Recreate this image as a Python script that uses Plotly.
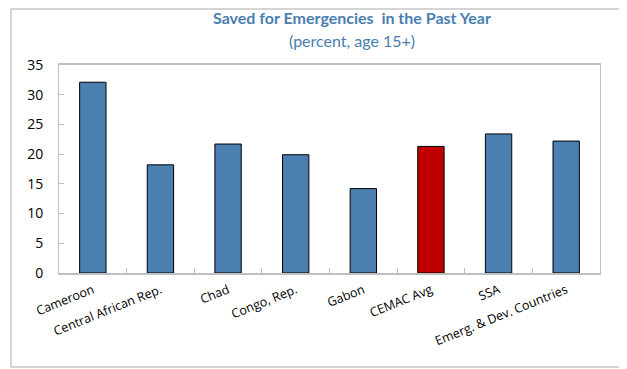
import plotly.graph_objects as go

categories = ["Cameroon", "Central African Rep.", "Chad", "Congo, Rep.", "Gabon",
              "CEMAC Avg", "SSA", "Emerg. & Dev. Countries"]
saved_pct = [32.1, 18.2, 21.7, 19.9, 14.2, 21.3, 23.4, 22.2]
highlight = "CEMAC Avg"

BLUE = "#4a7fb0"
RED = "#c00000"
GRAY = "#bfbfbf"
TITLE_BLUE = "#4a7eb0"

bar_colors = [RED if c == highlight else BLUE for c in categories]

fig = go.Figure()
fig.add_trace(go.Bar(
    x=categories,
    y=saved_pct,
    marker=dict(color=bar_colors, line=dict(color="black", width=1)),
    width=0.39,
))

# title and subtitle
fig.add_annotation(text="<b>Saved for Emergencies  in the Past Year</b>",
                   xref="paper", yref="paper", x=0.5416, y=1.226, yanchor="middle",
                   showarrow=False, font=dict(family="Lato", size=16, color=TITLE_BLUE))
fig.add_annotation(text="(percent, age 15+)",
                   xref="paper", yref="paper", x=0.5416, y=1.12, yanchor="middle",
                   showarrow=False, font=dict(family="Lato", size=16, color=TITLE_BLUE))

# outer frame around the whole chart
fig.add_shape(type="rect", xref="paper", yref="paper",
              x0=-0.0887, x1=1.0407, y0=-0.452, y1=1.269,
              line=dict(color="#d4d4d4", width=2))

# page body has an 8px margin, so the figure is drawn 8px smaller
fig.update_layout(
    width=619, height=361,
    margin=dict(l=51, r=27, t=57, b=96),
    paper_bgcolor="white",
    plot_bgcolor="white",
    showlegend=False,
)
fig.update_xaxes(
    automargin=False,
    showline=True, linecolor=GRAY, linewidth=2, mirror=True,
    ticks="inside", ticklen=5, tickcolor=GRAY, tickson="boundaries",
    tickangle=-22, tickfont=dict(family="Open Sans", size=12.5, color="black"),
    ticklabelstandoff=3,
    showgrid=False,
)
fig.update_yaxes(
    automargin=False,
    range=[0, 35], dtick=5,
    showline=True, linecolor=GRAY, linewidth=1, mirror=True,
    ticks="inside", ticklen=5, tickcolor=GRAY,
    tickfont=dict(family="Open Sans", size=14, color="black"),
    ticklabelstandoff=12,
    showgrid=False, zeroline=False,
)

fig.write_html("out.html")
